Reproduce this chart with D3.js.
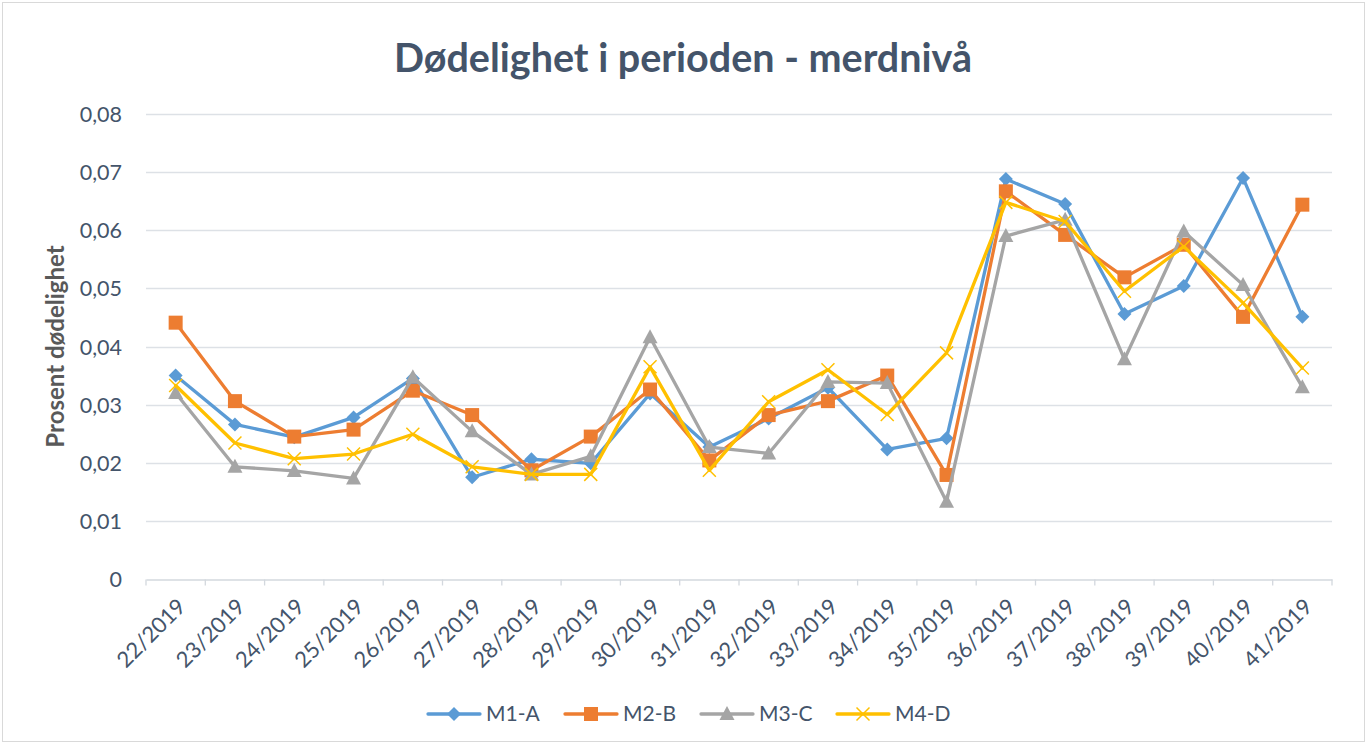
<!doctype html>
<html lang="no">
<head>
<meta charset="utf-8">
<title>Dødelighet i perioden - merdnivå</title>
<script src="https://cdn.jsdelivr.net/npm/d3@7"></script>
<style>
	html, body { margin: 0; padding: 0; background: #fff; }
	svg text { font-family: Lato, "Open Sans", sans-serif; }
</style>
</head>
<body>
<div id="chart"></div>
<script>
/* data */
var weeks = ['22/2019','23/2019','24/2019','25/2019','26/2019','27/2019','28/2019','29/2019','30/2019','31/2019',
             '32/2019','33/2019','34/2019','35/2019','36/2019','37/2019','38/2019','39/2019','40/2019','41/2019'];
var m1 = [0.0350,0.0266,0.0244,0.0278,0.0345,0.0175,0.0206,0.0199,0.0319,0.0227,0.0276,0.0329,0.0223,0.0242,0.0688,0.0645,0.0456,0.0504,0.0690,0.0451];
var m2 = [0.0441,0.0306,0.0245,0.0257,0.0324,0.0282,0.0187,0.0245,0.0326,0.0204,0.0282,0.0306,0.0350,0.0179,0.0667,0.0592,0.0519,0.0575,0.0451,0.0644];
var m3 = [0.0320,0.0193,0.0186,0.0173,0.0347,0.0254,0.0180,0.0211,0.0416,0.0227,0.0216,0.0339,0.0337,0.0133,0.0590,0.0618,0.0378,0.0598,0.0506,0.0330];
var m4 = [0.0333,0.0234,0.0207,0.0215,0.0249,0.0193,0.0180,0.0180,0.0365,0.0187,0.0305,0.0360,0.0283,0.0389,0.0648,0.0615,0.0495,0.0572,0.0475,0.0363];
var yTicks = [0, 0.01, 0.02, 0.03, 0.04, 0.05, 0.06, 0.07, 0.08];

var series = [
	{ name: 'M1-A', values: m1, color: '#5B9BD5', marker: 'diamond' },
	{ name: 'M2-B', values: m2, color: '#ED7D31', marker: 'square' },
	{ name: 'M3-C', values: m3, color: '#A5A5A5', marker: 'triangle' },
	{ name: 'M4-D', values: m4, color: '#FFC000', marker: 'cross' }
];

/* view */
var size = { width: 1367, height: 744 };
var plot = { left: 146, right: 1332, top: 114, bottom: 579 };
var textColor = '#44546A';

var svg = d3.select('#chart').append('svg')
	.attr('width', size.width)
	.attr('height', size.height);

svg.append('rect')
	.attr('x', 2.5).attr('y', 2.5)
	.attr('width', size.width - 5).attr('height', size.height - 5)
	.attr('fill', '#fff')
	.attr('stroke', '#D9D9D9');

var x = d3.scaleBand().domain(weeks).range([plot.left, plot.right]);
var y = d3.scaleLinear().domain([0, 0.08]).range([plot.bottom, plot.top]);

// gridlines
svg.append('g')
	.selectAll('line')
	.data(yTicks.slice(1))
	.enter().append('line')
	.attr('x1', plot.left).attr('x2', plot.right)
	.attr('y1', function(d){ return Math.round(y(d)) + 0.5; })
	.attr('y2', function(d){ return Math.round(y(d)) + 0.5; })
	.attr('stroke', '#DDE1E6')
	.attr('stroke-width', 1.3);

// y axis
var yAxis = svg.append('g')
	.attr('transform', 'translate(' + (plot.left - 24) + ',0)')
	.call(d3.axisLeft(y).tickValues(yTicks).tickSize(0)
		.tickFormat(function(d){ return d === 0 ? '0' : d3.format('.2f')(d).replace('.', ','); }));
yAxis.select('.domain').remove();
yAxis.selectAll('text')
	.attr('fill', textColor)
	.attr('font-size', 21.5)
	.attr('dy', '0.35em')
	.attr('x', 0);

// x axis
var xAxis = svg.append('g')
	.attr('transform', 'translate(0,' + (Math.round(plot.bottom) + 0.5) + ')')
	.call(d3.axisBottom(x).tickSize(0));
xAxis.select('.domain').attr('stroke', '#D3D8DE').attr('stroke-width', 1.3);
xAxis.selectAll('.tick text')
	.attr('fill', textColor)
	.attr('font-size', 22)
	.attr('text-anchor', 'end')
	.attr('dy', '0.35em')
	.attr('transform', 'translate(' + 6 + ',' + 23 + ') rotate(-45)')
	.attr('y', 0).attr('x', 0);
// tick marks at band boundaries
xAxis.append('g')
	.selectAll('line')
	.data(weeks.concat(['end']))
	.enter().append('line')
	.attr('x1', function(d, i){ return plot.left + i * x.step(); })
	.attr('x2', function(d, i){ return plot.left + i * x.step(); })
	.attr('y1', 0).attr('y2', 6)
	.attr('stroke', '#D3D8DE')
	.attr('stroke-width', 1.3);

// y axis title
svg.append('text')
	.attr('transform', 'translate(64,' + ((plot.top + plot.bottom) / 2) + ') rotate(-90)')
	.attr('text-anchor', 'middle')
	.attr('font-size', 24)
	.attr('font-weight', 'bold')
	.attr('fill', '#595959')
	.text('Prosent dødelighet');

// title
svg.append('text')
	.attr('x', 683)
	.attr('y', 72)
	.attr('text-anchor', 'middle')
	.attr('font-size', 39.5)
	.attr('font-weight', 'bold')
	.attr('fill', textColor)
	.text('Dødelighet i perioden - merdnivå');

function drawMarker(g, type, color, cx, cy){
	if (type === 'diamond') {
		g.append('path')
			.attr('d', 'M' + cx + ',' + (cy - 7) + 'L' + (cx + 7) + ',' + cy + 'L' + cx + ',' + (cy + 7) + 'L' + (cx - 7) + ',' + cy + 'Z')
			.attr('fill', color);
	} else if (type === 'square') {
		g.append('rect')
			.attr('x', cx - 7).attr('y', cy - 7)
			.attr('width', 14).attr('height', 14)
			.attr('fill', color);
	} else if (type === 'triangle') {
		g.append('path')
			.attr('d', 'M' + cx + ',' + (cy - 8) + 'L' + (cx + 7.5) + ',' + (cy + 6) + 'L' + (cx - 7.5) + ',' + (cy + 6) + 'Z')
			.attr('fill', color);
	} else {
		g.append('path')
			.attr('d', 'M' + (cx - 6.5) + ',' + (cy - 6.5) + 'L' + (cx + 6.5) + ',' + (cy + 6.5) + 'M' + (cx + 6.5) + ',' + (cy - 6.5) + 'L' + (cx - 6.5) + ',' + (cy + 6.5))
			.attr('stroke', color)
			.attr('stroke-width', 1.5)
			.attr('fill', 'none');
	}
}

var line = d3.line()
	.x(function(d, i){ return x(weeks[i]) + x.bandwidth() / 2; })
	.y(function(d){ return y(d); });

series.forEach(function(s){
	var g = svg.append('g').attr('class', 'series');
	g.append('path')
		.attr('d', line(s.values))
		.attr('fill', 'none')
		.attr('stroke', s.color)
		.attr('stroke-width', 3.3)
		.attr('stroke-linejoin', 'round')
		.attr('stroke-linecap', 'round');
	s.values.forEach(function(v, i){
		drawMarker(g, s.marker, s.color, x(weeks[i]) + x.bandwidth() / 2, y(v));
	});
});

// legend
var legendX = [428, 565, 701, 837];
var legend = svg.append('g');
series.forEach(function(s, i){
	var g = legend.append('g').attr('transform', 'translate(' + legendX[i] + ',714)');
	g.append('line')
		.attr('x1', 0).attr('x2', 52)
		.attr('y1', 0).attr('y2', 0)
		.attr('stroke', s.color)
		.attr('stroke-width', 3.3)
		.attr('stroke-linecap', 'round');
	drawMarker(g, s.marker, s.color, 26, 0);
	g.append('text')
		.attr('x', 58)
		.attr('y', 0)
		.attr('dy', '0.35em')
		.attr('font-size', 21)
		.attr('fill', textColor)
		.text(s.name);
});
</script>
</body>
</html>
